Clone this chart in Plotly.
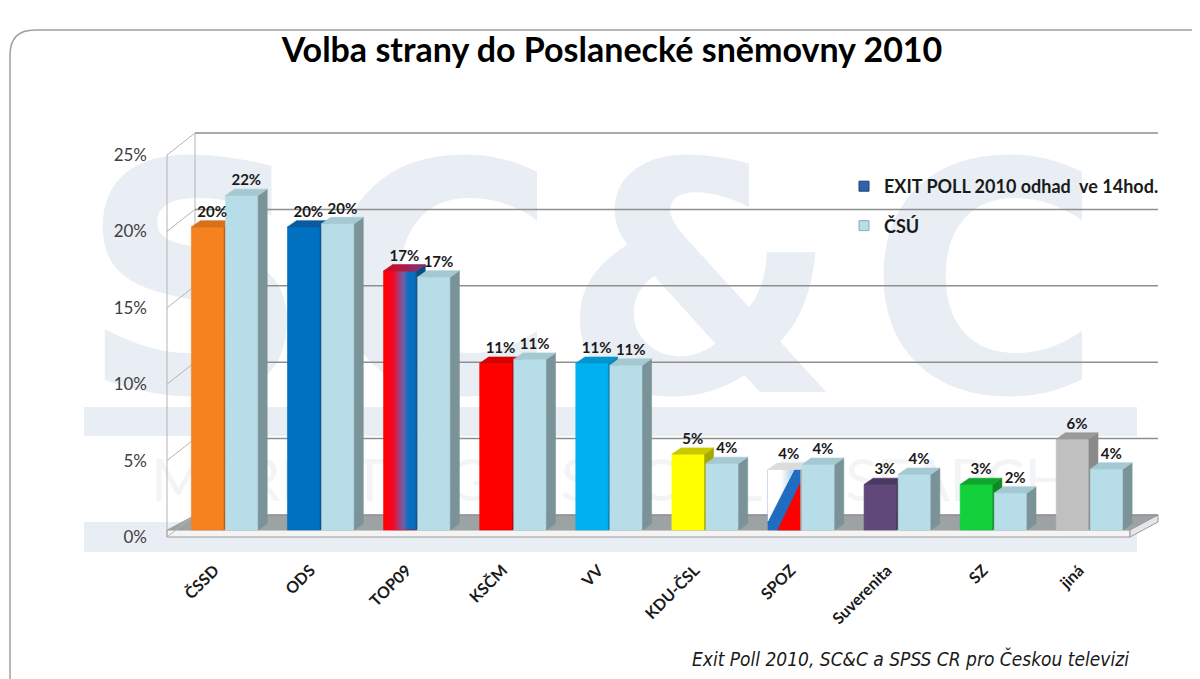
import plotly.graph_objects as go

# ---------------- data ----------------
categories = ["ČSSD", "ODS", "TOP09", "KSČM", "VV", "KDU-ČSL", "SPOZ", "Suverenita", "SZ", "jiná"]
exit_poll = [20.0, 20.0, 17.1, 11.0, 11.0, 5.0, 4.0, 3.0, 3.0, 6.0]
csu = [22.08, 20.22, 16.70, 11.27, 10.88, 4.39, 4.33, 3.67, 2.44, 4.02]
y_ticks = [0, 5, 10, 15, 20, 25]
y_tick_labels = ["0%", "5%", "10%", "15%", "20%", "25%"]
series_names = ["EXIT POLL 2010 odhad\u00a0 ve 14hod.", "ČSÚ"]

# ---------------- styles ----------------
exit_front = ["#f5821f", "#0070c0", "#ff0000", "#ff0000", "#00b0f0", "#ffff00", "#1f6cc0", "#60497a", "#12d13a", "#c0c0c0"]
exit_top = ["#d9701a", "#0a5aa0", "#c0183a", "#d60000", "#0096cf", "#c9c900", "#dcdcdc", "#4a3862", "#0ea52c", "#9a9a9a"]
exit_side = ["#b85e12", "#084c88", "#084c88", "#b00000", "#0080b0", "#a8a800", "#b0b0b0", "#3c2d50", "#0b8a24", "#8a8a8a"]
csu_front, csu_top, csu_side = "#b7dee8", "#a4c9d3", "#7a9399"

# page body adds an 8px margin: the figure covers reference pixels 8..1200 / 8..679
OFF = 8
W, H = 1200 - OFF, 679 - OFF
PXX, X0PX = 96.1, 225.0            # pixels per category, reference pixel of category 0
Y0F, PXYF = 537.0, 15.28           # front (wall) plane
Y0B, PXYB = 530.0, 15.15           # bar plane
x_range = [(OFF - X0PX) / PXX, (1200 - X0PX) / PXX]
yf_range = [(Y0F - 679) / PXYF, (Y0F - OFF) / PXYF]
yb_range = [(Y0B - 679) / PXYB, (Y0B - OFF) / PXYB]

def xd(px):
    return (px - X0PX) / PXX

def yfd(py):
    return (Y0F - py) / PXYF

def pxp(rx):
    return (rx - OFF) / W

def pyp(ry):
    return 1 - (ry - OFF) / H

BW = 0.34                      # bar width (category units)
OFF_EXIT, OFF_CSU = -0.35, 0.005
BDX, BDY = 0.094, 0.42          # bar depth offset
WALL_L, WALL_R = xd(167), xd(1130)
WDX, WDY = 28 / PXX, 22 / PXYF  # wall depth offset
FLOOR_T = 7 / PXYF
TICK_SHIFT = -0.11              # rotated category labels sit slightly left of the pair centre

fig = go.Figure()

def poly(polys, color, yaxis="y", grad=None, lw=0.6, lcolor=None):
    xs, ys = [], []
    for p in polys:
        xs += [q[0] for q in p] + [p[0][0], None]
        ys += [q[1] for q in p] + [p[0][1], None]
    kw = dict(x=xs, y=ys, mode="lines", fill="toself", fillcolor=color,
              line=dict(width=lw, color=lcolor or color), hoverinfo="skip",
              showlegend=False, yaxis=yaxis)
    if grad is not None:
        kw["fillgradient"] = dict(type="horizontal", colorscale=grad)
    fig.add_trace(go.Scatter(**kw))

# ---------------- watermark ----------------
wm = "#e8eef3"
fig.add_trace(go.Scatter(
    x=[xd(195), xd(440), xd(700), xd(985)], y=[yfd(312)] * 4, mode="text",
    text=["S", "C", "&", "C"], textposition="middle center",
    textfont=dict(family="DejaVu Sans", size=320, color=wm, weight="bold"),
    hoverinfo="skip", showlegend=False))
fig.add_trace(go.Scatter(
    x=[xd(610)], y=[yfd(486)], mode="text", text=["MARKETING & SOCIAL RESEARCH"],
    textposition="middle center", textfont=dict(family="Lato", size=58, color="#f3f4f5"),
    hoverinfo="skip", showlegend=False))
for y_top, y_bot in [(407, 436), (522, 552)]:
    fig.add_shape(type="rect", xref="paper", yref="paper", x0=pxp(84), x1=pxp(1137),
                  y0=pyp(y_bot), y1=pyp(y_top), fillcolor=wm, line_width=0, layer="below")

# ---------------- walls, gridlines, floor ----------------
poly([[(WALL_L + WDX, WDY), (WALL_R + WDX, WDY), (WALL_R + WDX * FLOOR_T / WDY, FLOOR_T), (WALL_L, FLOOR_T)]], "#9da2a5")
poly([[(WALL_L, 0), (WALL_R, 0), (WALL_R, FLOOR_T), (WALL_L, FLOOR_T)]], "#f4f4f4", lw=1, lcolor="#9a9a9a")
poly([[(WALL_R, 0), (WALL_R + WDX, WDY - FLOOR_T), (WALL_R + WDX, WDY), (WALL_R, FLOOR_T)]], "#e6e6e6", lw=1, lcolor="#9a9a9a")
gx, gy = [], []
for v in y_ticks:
    gx += [WALL_L, WALL_L + WDX, None]
    gy += [v, v + WDY, None]
gx += [WALL_L, WALL_L, None, WALL_L + WDX, WALL_L + WDX, None]
gy += [0, y_ticks[-1], None, WDY, y_ticks[-1] + WDY, None]
fig.add_trace(go.Scatter(x=gx, y=gy, mode="lines", line=dict(color="#b4b4b4", width=1),
                         hoverinfo="skip", showlegend=False))
bx, by = [], []
for v in y_ticks:
    bx += [WALL_L + WDX, WALL_R + WDX, None]
    by += [v + WDY, v + WDY, None]
fig.add_trace(go.Scatter(x=bx, y=by, mode="lines", line=dict(color="#8f8f8f", width=1.5),
                         hoverinfo="skip", showlegend=False))

# ---------------- bars (bar plane, y2) ----------------
def faces(i, v, off):
    x0 = i + off
    x1 = x0 + BW
    front = [(x0, 0), (x1, 0), (x1, v), (x0, v)]
    side = [(x1, 0), (x1 + BDX, BDY), (x1 + BDX, v + BDY), (x1, v)]
    top = [(x0, v), (x1, v), (x1 + BDX, v + BDY), (x0 + BDX, v + BDY)]
    return front, side, top, x0, x1

for i, v in enumerate(exit_poll):
    front, side, top, x0, x1 = faces(i, v, OFF_EXIT)
    name = categories[i]
    if name == "TOP09":
        poly([front], exit_front[i], "y2",
             grad=[[0, "#ff0000"], [0.3, "#f0082a"], [0.6, "#7060a8"], [0.8, "#0070c0"], [1, "#0070c0"]])
    elif name == "SPOZ":
        poly([front], exit_front[i], "y2")
        w = x1 - x0
        poly([[(x0, 0.15 * v), (x0, v), (x1 - 0.2 * w, v)]], "#ffffff", "y2",
             grad=[[0, "#ffffff"], [0.5, "#ffffff"], [1, "#a8c8ea"]])
        poly([[(x0 + 0.3 * w, 0), (x1, 0), (x1, 0.78 * v)]], "#ff0000", "y2")
    else:
        poly([front], exit_front[i], "y2")
    poly([side], exit_side[i], "y2")
    if name == "TOP09":
        poly([top], exit_top[i], "y2", grad=[[0, "#e00010"], [1, "#6a3c8c"]])
    else:
        poly([top], exit_top[i], "y2")

cf, cs, ct = [], [], []
for i, v in enumerate(csu):
    front, side, top, x0, x1 = faces(i, v, OFF_CSU)
    cf.append(front); cs.append(side); ct.append(top)
poly(cf, csu_front, "y2")
poly(cs, csu_side, "y2")
poly(ct, csu_top, "y2")

# value labels
lx, ly, lt = [], [], []
for i, (a, b) in enumerate(zip(exit_poll, csu)):
    lx += [i + OFF_EXIT + BW / 2 + BDX / 2, i + OFF_CSU + BW / 2 + BDX / 2]
    ly += [a + BDY, b + BDY]
    lt += [f"{round(a)}%", f"{round(b)}%"]
fig.add_trace(go.Scatter(x=lx, y=ly, text=lt, mode="text", textposition="top center",
                         textfont=dict(family="Lato", size=15, color="#1a1a1a", weight="bold"),
                         yaxis="y2", hoverinfo="skip", showlegend=False, cliponaxis=False))

# legend entries
fig.add_trace(go.Scatter(x=[None], y=[None], mode="markers", name=series_names[0], legendgroup="a",
                         marker=dict(symbol="square", size=10, color="#2f64a8",
                                     line=dict(color="#1d3f70", width=1))))
fig.add_trace(go.Scatter(x=[None], y=[None], mode="markers", name=series_names[1], legendgroup="b",
                         marker=dict(symbol="square", size=10, color="#b7dee8",
                                     line=dict(color="#8aaab3", width=1))))

# ---------------- layout ----------------
fig.update_layout(
    width=W, height=H, margin=dict(l=0, r=0, t=0, b=0),
    paper_bgcolor="white", plot_bgcolor="rgba(0,0,0,0)",
    title=dict(text="<b>Volba strany do Poslanecké sněmovny 2010</b>", x=pxp(612), xanchor="center",
               y=pyp(50), yanchor="middle", font=dict(family="Lato", size=34, color="#000000")),
    xaxis=dict(domain=[0, 1], range=x_range,
               tickvals=[i + TICK_SHIFT for i in range(len(categories))], ticktext=categories,
               tickangle=-45, tickfont=dict(family="Lato", size=16, color="#1a1a1a", weight="bold"),
               showgrid=False, zeroline=False, showline=False, ticks="",
               anchor="free", position=pyp(Y0F), ticklabelstandoff=20, fixedrange=True),
    yaxis=dict(domain=[0, 1], range=yf_range, tickvals=y_ticks, ticktext=y_tick_labels,
               tickfont=dict(family="Lato", size=17, color="#404040"),
               showgrid=False, zeroline=False, showline=False, ticks="",
               anchor="free", position=pxp(167), ticklabelstandoff=20, fixedrange=True),
    yaxis2=dict(overlaying="y", range=yb_range, visible=False, fixedrange=True),
    legend=dict(x=pxp(844), y=pyp(168), xanchor="left", yanchor="top", bgcolor="rgba(0,0,0,0)",
                font=dict(family="Lato", size=18, color="#1a1a1a", weight="bold"),
                tracegroupgap=13, itemwidth=30),
    showlegend=True,
)

# frame
rx, ry = 25 / W, 25 / H
xl, yt = pxp(10), pyp(30)
fig.add_shape(type="path", xref="paper", yref="paper",
              path=f"M {xl},-0.01 L {xl},{yt - ry} Q {xl},{yt} {xl + rx},{yt} L 1.01,{yt}",
              line=dict(color="#a0a0a0", width=1.5))

fig.add_annotation(text="<i>Exit Poll 2010, SC&C a SPSS CR pro Českou televizi</i>", xref="paper", yref="paper",
                   x=pxp(1131), y=pyp(658), xanchor="right", yanchor="middle", showarrow=False,
                   font=dict(family="DejaVu Sans Condensed, Liberation Sans", size=19, color="#1a1a1a"))

fig.write_html("out.html")
